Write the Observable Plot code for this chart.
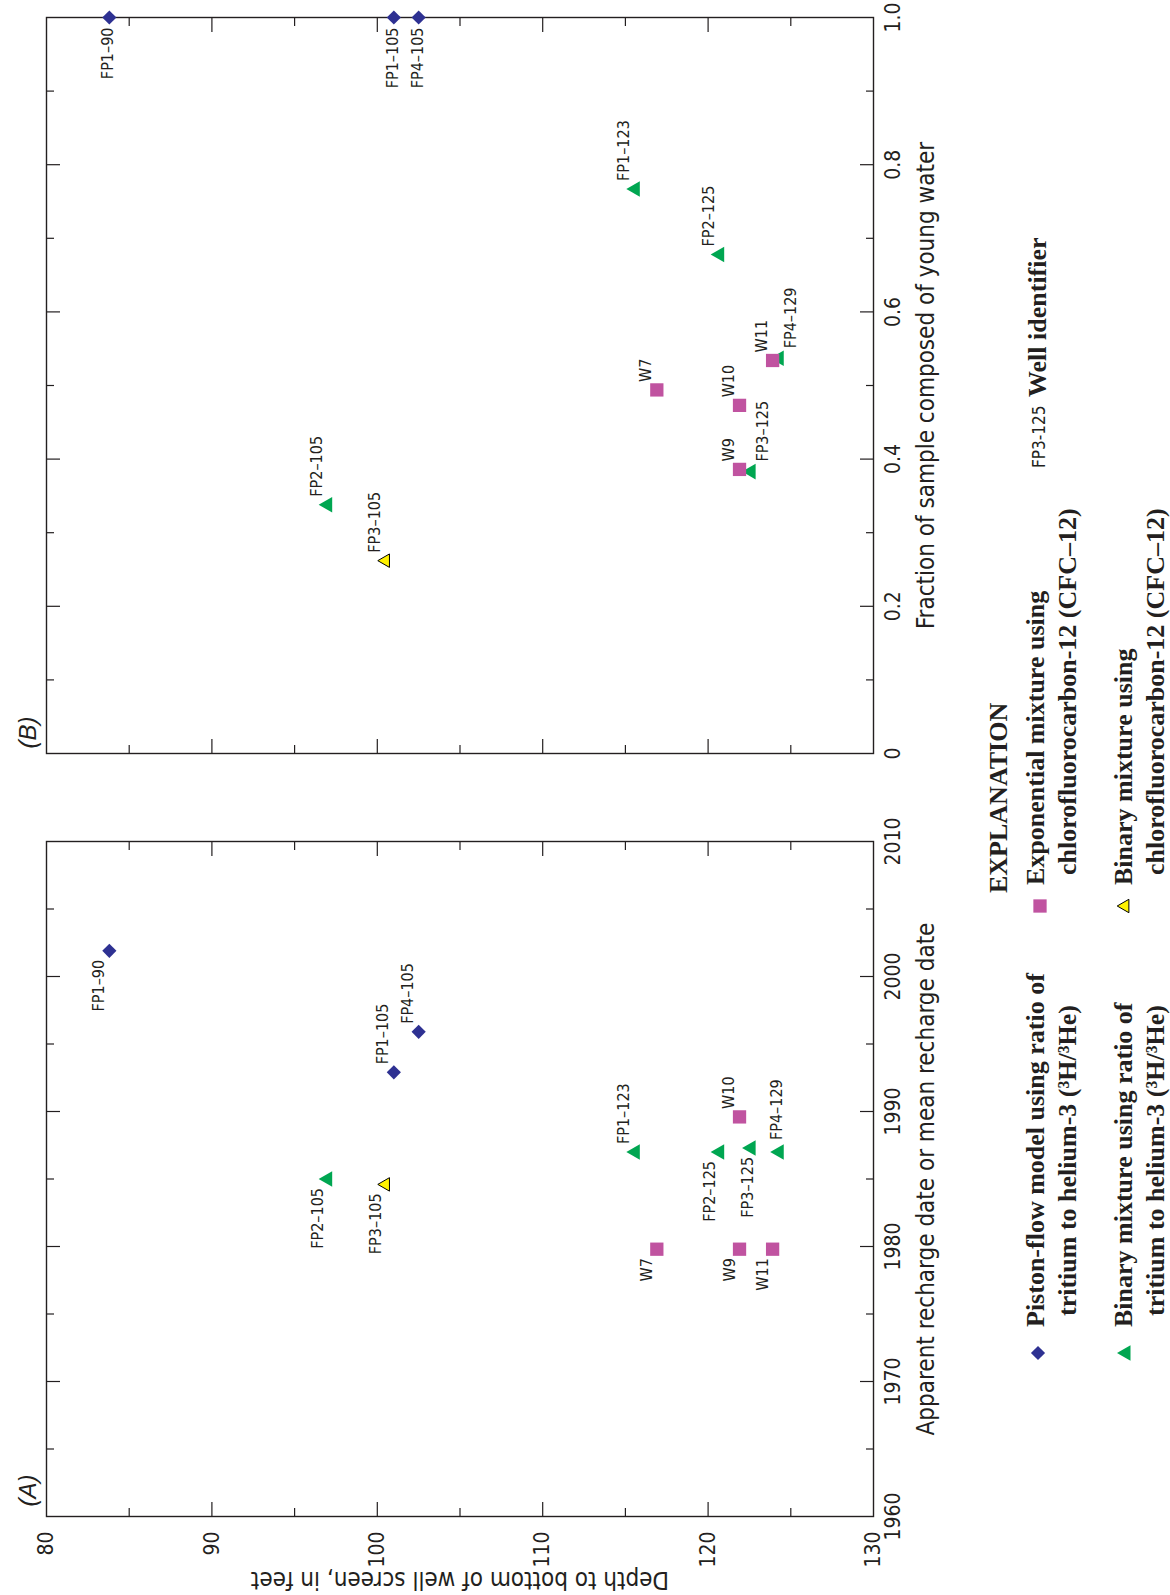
<!DOCTYPE html>
<html><head><meta charset="utf-8">
<script src="https://cdn.jsdelivr.net/npm/d3@7"></script>
<script src="https://cdn.jsdelivr.net/npm/@observablehq/plot@0.6"></script>
<style>
html,body{margin:0;padding:0;background:#fff;}
#page{position:relative;width:1170px;height:1595px;overflow:hidden;background:#fff;}
#panelB{position:absolute;left:0;top:0;}
#panelA{position:absolute;left:0;top:800px;}
#legend{position:absolute;left:960px;top:0;}
</style></head>
<body><div id="page"><div id="panelB"></div><div id="panelA"></div><svg id="legend"></svg></div>
<script>
// ---------------- data ----------------
const wells = ["FP1–90","FP1–105","FP4–105","FP2–105","FP3–105","FP1–123","FP2–125","FP3–125","FP4–129","W7","W9","W10","W11"];
const depthFt = [83.8, 101.0, 102.5, 97.0, 100.5, 115.6, 120.7, 122.6, 124.3, 116.9, 121.9, 121.9, 123.9];
const method = ["piston3H","piston3H","piston3H","binary3H","binaryCFC","binary3H","binary3H","binary3H","binary3H","exponentialCFC","exponentialCFC","exponentialCFC","exponentialCFC"];
const rechargeYear = [2001.9, 1992.9, 1995.9, 1985.0, 1984.6, 1987.0, 1987.0, 1987.3, 1987.0, 1979.8, 1979.8, 1989.6, 1979.8];
const youngFraction = [1.0, 1.0, 1.0, 0.338, 0.262, 0.767, 0.678, 0.383, 0.537, 0.494, 0.386, 0.473, 0.534];

const depthTicks = [80, 90, 100, 110, 120, 130];
const depthMinorTicks = [85, 95, 105, 115, 125];
const yearTicks = [1960, 1970, 1980, 1990, 2000, 2010];
const yearMinorTicks = [1965, 1975, 1985, 1995, 2005];
const fractionTicks = [0, 0.2, 0.4, 0.6, 0.8, 1.0];
const fractionTickLabels = ["0", "0.2", "0.4", "0.6", "0.8", "1.0"];
const fractionMinorTicks = [0.1, 0.3, 0.5, 0.7, 0.9];

const methodKeys = ["piston3H", "binary3H", "exponentialCFC", "binaryCFC"];
const methodLegend = [
  ["Piston-flow model using ratio of", "tritium to helium-3 (³H/³He)"],
  ["Binary mixture using ratio of", "tritium to helium-3 (³H/³He)"],
  ["Exponential mixture using", "chlorofluorocarbon-12 (CFC–12)"],
  ["Binary mixture using", "chlorofluorocarbon-12 (CFC–12)"]
];

// ---------------- styles ----------------
const ink = "#231f20";
const sansNarrow = "'Liberation Sans Narrow','DejaVu Sans Condensed','Arial Narrow','Liberation Sans',sans-serif";
const serif = "'Liberation Serif','Times New Roman',serif";
const markStyle = {
  piston3H: {symbol: "diamond2", fill: "#2e3192", stroke: "none", r: 6.4},
  binary3H: {symbol: "triangle", fill: "#00a651", stroke: "none", r: 5.8},
  exponentialCFC: {symbol: "square", fill: "#c053a0", stroke: "none", r: 7.5},
  binaryCFC: {symbol: "triangle", fill: "#fff200", stroke: "#000", r: 5.0}
};
const d3Symbols = {diamond2: d3.symbolDiamond2, triangle: d3.symbolTriangle, square: d3.symbolSquare};
const drawOrder = ["binary3H", "exponentialCFC", "piston3H", "binaryCFC"];
const labelOffsets = {
  above: {dx: -11, dy: -8, textAnchor: "start"},
  below: {dx: -10, dy: 9, textAnchor: "end"},
  aboveRight: {dx: 12, dy: -10, textAnchor: "start"},
  belowCentered: {dx: -1, dy: 10, textAnchor: "end"},
  aboveCentered: {dx: -2, dy: -12, textAnchor: "start"},
  belowNear: {dx: -3, dy: 9, textAnchor: "end"}
};
const labelPlaceA = ["below","above","above","below","below","above","below","belowNear","aboveCentered","below","below","above","below"];
const labelPlaceB = ["belowCentered","belowCentered","belowCentered","above","above","above","above","aboveRight","aboveRight","above","above","above","above"];

function panel(cfg) {
  const data = wells.map((w, i) => ({well: w, depth: depthFt[i], v: cfg.values[i], method: method[i], place: cfg.places[i]}));
  const tick = {stroke: ink, strokeWidth: 1.2, fill: "none", label: null};
  const marks = [
    Plot.axisX(depthTicks.slice(1, -1), {...tick, anchor: "bottom", tickSize: 14, dy: -14}),
    Plot.axisX(depthMinorTicks, {...tick, anchor: "bottom", tickSize: 8, dy: -8}),
    Plot.axisX(depthTicks.slice(1, -1), {...tick, anchor: "top", tickSize: 14, dy: 14}),
    Plot.axisX(depthMinorTicks, {...tick, anchor: "top", tickSize: 8, dy: 8}),
    Plot.axisY(cfg.major.slice(1, -1), {...tick, anchor: "left", tickSize: 14, dx: 14}),
    Plot.axisY(cfg.minor, {...tick, anchor: "left", tickSize: 8, dx: 8}),
    Plot.axisY(cfg.major.slice(1, -1), {...tick, anchor: "right", tickSize: 14, dx: -14}),
    Plot.axisY(cfg.minor, {...tick, anchor: "right", tickSize: 8, dx: -8}),
    Plot.frame({stroke: ink, strokeWidth: 1.4}),
    Plot.text(cfg.major, {y: d => d, text: (d, i) => cfg.majorLabels[i], frameAnchor: "right", dx: 12, rotate: -90,
      textAnchor: "middle", lineAnchor: "top", fontSize: 21, fontFamily: sansNarrow, fill: ink}),
    Plot.text([cfg.title], {frameAnchor: "right", dx: 43, rotate: -90, textAnchor: "middle", lineAnchor: "top",
      fontSize: 24, fontFamily: sansNarrow, fill: ink}),
    Plot.text([cfg.panelLabel], {frameAnchor: "bottom-left", dx: -11, dy: cfg.panelLabelDy, rotate: -90,
      textAnchor: "start", lineAnchor: "bottom", fontSize: 24, fontStyle: "italic",
      fontFamily: "'Liberation Sans',Arial,sans-serif", fill: ink})
  ];
  if (cfg.depthLabels) {
    marks.push(
      Plot.text(depthTicks, {x: d => d, text: d => String(d), frameAnchor: "bottom", dy: 15, rotate: -90,
        textAnchor: "end", lineAnchor: "middle", fontSize: 21, fontFamily: sansNarrow, fill: ink}),
      Plot.text(["Depth to bottom of well screen, in feet"], {frameAnchor: "bottom", dy: 63, rotate: 180,
        textAnchor: "middle", lineAnchor: "middle", fontSize: 24, fontFamily: sansNarrow, fill: ink})
    );
  }
  for (const m of drawOrder) {
    const s = markStyle[m];
    marks.push(Plot.dot(data.filter(d => d.method === m), {x: "depth", y: "v", symbol: s.symbol, r: s.r,
      fill: s.fill, stroke: s.stroke, strokeWidth: 1, rotate: -90}));
  }
  for (const key of Object.keys(labelOffsets)) {
    const o = labelOffsets[key];
    const sub = data.filter(d => d.place === key);
    if (!sub.length) continue;
    marks.push(Plot.text(sub, {x: "depth", y: "v", text: "well", rotate: -90, dx: o.dx, dy: o.dy,
      textAnchor: o.textAnchor, lineAnchor: "middle", fontSize: 16, fontFamily: sansNarrow, fill: ink}));
  }
  return Plot.plot({
    width: 960, height: cfg.height,
    marginLeft: 46, marginRight: 87, marginTop: cfg.marginTop, marginBottom: cfg.marginBottom,
    x: {domain: [80, 130], axis: null},
    y: {domain: cfg.domain, axis: null},
    style: {background: "transparent", overflow: "visible"},
    marks
  });
}

document.getElementById("panelB").append(panel({
  values: youngFraction, places: labelPlaceB, domain: [0, 1],
  major: fractionTicks, majorLabels: fractionTickLabels, minor: fractionMinorTicks,
  title: "Fraction of sample composed of young water", panelLabel: "(B)", panelLabelDy: -5,
  height: 800, marginTop: 17, marginBottom: 47, depthLabels: false
}));
document.getElementById("panelA").append(panel({
  values: rechargeYear, places: labelPlaceA, domain: [1960, 2010],
  major: yearTicks, majorLabels: yearTicks.map(String), minor: yearMinorTicks,
  title: "Apparent recharge date or mean recharge date", panelLabel: "(A)", panelLabelDy: -10,
  height: 795, marginTop: 41, marginBottom: 79, depthLabels: true
}));

// ---------------- legend ----------------
const legendLayout = {
  explanation: [1007, 893],
  items: {
    piston3H: {mark: [1038, 1353], lines: [[1044, 1327], [1076, 1316]]},
    binary3H: {mark: [1126, 1353], lines: [[1132, 1327], [1164, 1316]]},
    exponentialCFC: {mark: [1040, 906], lines: [[1044, 885], [1076, 875]]},
    binaryCFC: {mark: [1125, 906], lines: [[1132, 885], [1164, 875]]}
  },
  sample: [1045, 468], sampleText: [1046, 397]
};
const lg = d3.select("#legend").attr("width", 210).attr("height", 1595);
const g = lg.append("g").attr("transform", "translate(-960,0)");
function rtext(x, y, str, font, size, weight) {
  g.append("text").attr("transform", `translate(${x},${y}) rotate(-90)`)
    .attr("font-family", font).attr("font-size", size).attr("font-weight", weight)
    .attr("fill", ink).text(str);
}
rtext(...legendLayout.explanation, "EXPLANATION", serif, 26, "bold");
methodKeys.forEach((k, i) => {
  const it = legendLayout.items[k], s = markStyle[k];
  g.append("path")
    .attr("d", d3.symbol(d3Symbols[s.symbol], Math.PI * s.r * s.r)())
    .attr("transform", `translate(${it.mark[0]},${it.mark[1]}) rotate(-90)`)
    .attr("fill", s.fill).attr("stroke", s.stroke).attr("stroke-width", 1);
  methodLegend[i].forEach((line, j) => rtext(it.lines[j][0], it.lines[j][1], line, serif, 26, "bold"));
});
rtext(...legendLayout.sample, "FP3-125", sansNarrow, 17, "normal");
rtext(...legendLayout.sampleText, "Well identifier", serif, 26, "bold");
</script>
</body></html>
